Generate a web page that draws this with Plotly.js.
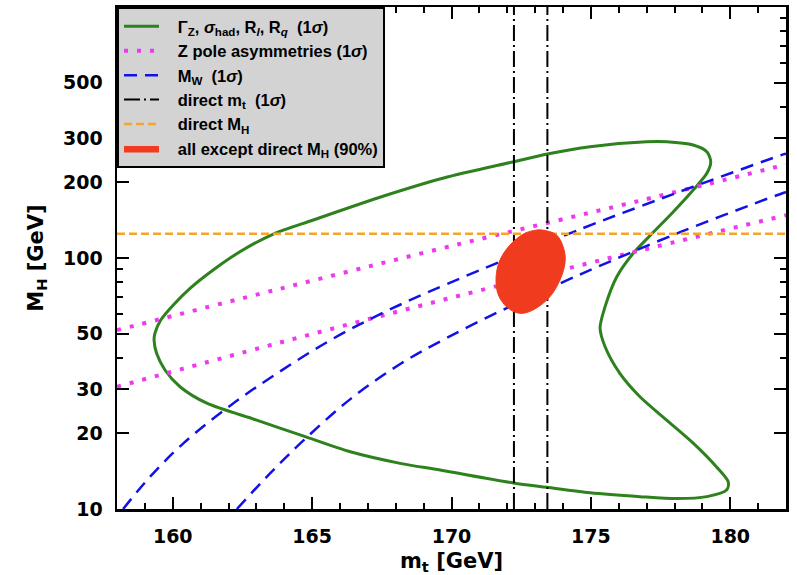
<!DOCTYPE html>
<html>
<head>
<meta charset="utf-8">
<script src="https://cdn.plot.ly/plotly-3.0.1.min.js"></script>
<style>html,body{margin:0;padding:0;background:#fff;}#plot{width:797px;height:575px;}</style>
</head>
<body>
<div id="plot"></div>
<script>
// Green contour: Gamma_Z, sigma_had, R_l, R_q (1 sigma)  [mt GeV, MH GeV]
const zWidthMt = [159.33,159.36,159.57,160.02,160.62,161.45,162.41,163.61,165.04,167.57,169.72,172.24,173.44,174.97,177.00,177.72,178.67,179.16,179.30,179.16,178.67,177.96,177.18,176.52,175.93,175.51,175.33,175.51,176.04,176.76,177.72,178.67,179.51,179.93,179.87,179.16,178.08,176.76,174.97,173.42,172.22,169.59,168.16,166.37,164.70,163.01,161.22,160.26,159.72,159.42,159.33];
const zWidthMH = [47.1,50.1,56.6,65.0,75.7,89.6,105.9,124.6,141.7,176.6,208.3,241.9,259.6,277.6,290.6,290.6,281.9,265.1,241.9,217.5,186.6,152.9,124.6,104.4,84.2,64.0,52.6,44.3,34.7,28.0,22.6,18.3,14.7,12.8,11.9,11.2,11.0,11.2,11.6,12.2,12.7,14.3,15.2,16.9,19.5,22.6,26.4,30.7,35.8,41.7,47.1];

// Z pole asymmetries (1 sigma): upper and lower band edges
const asymUpperMt = [158.0,163.68,169.89,176.76,182.0];
const asymUpperMH = [51.6,74.6,110.9,169.2,235.6];
const asymLowerMt = [158.0,163.74,169.78,176.11,182.0];
const asymLowerMH = [30.7,45.7,68.5,102.8,148.0];

// M_W (1 sigma): two band edges
const mwUpperMt = [158.22,159.19,160.39,162.06,163.74,165.65,167.57,169.84,174.73,176.76,178.67,181.90,182.0];
const mwUpperMH = [10.0,13.45,18.3,25.8,34.7,47.0,60.7,78.8,131.7,160.4,192.2,258.6,260.5];
const mwLowerMt = [162.30,163.50,164.70,166.37,168.16,169.84,171.98,174.25,175.21,178.20,181.90,182.0];
const mwLowerMH = [10.0,13.9,18.8,27.4,37.8,48.1,63.2,82.5,91.9,126.7,181.6,182.9];

// direct m_t (1 sigma) band edges and direct M_H
const directMt = [172.24,173.44];
const directMH = [125];

// all except direct M_H (90%) region outline
const fitMt = [173.24,173.77,174.04,174.07,173.89,173.53,172.93,172.46,172.04,171.68,171.60,171.74,172.10,172.58,172.93,173.24];
const fitMH = [129.3,123.5,107.6,95.3,81.7,70.1,62.1,60.2,63.0,71.2,84.2,98.2,112.7,124.6,128.5,129.3];

// axis settings
const xRange = [158,182];
const yRange = [10,1000];
const yTicks = [10,20,30,50,100,200,300,500];
const yMinorTicks = [40,60,70,80,90,400,600,700,800,900];

const pad = '\u00a0\u00a0\u00a0';
const traces = [
  {x: zWidthMt, y: zWidthMH, mode:'lines', line:{color:'#2e821e', width:3, shape:'spline', smoothing:0.8},
   name: pad + 'Γ<sub>Z</sub>, <i>σ</i><sub>had</sub>, R<sub><i>l</i></sub>, R<sub><i>q</i></sub>  (1<i>σ</i>)', legendgroup:'a'},
  {x: asymUpperMt.concat([null], asymLowerMt), y: asymUpperMH.concat([null], asymLowerMH), mode:'lines',
   line:{color:'#ee3aee', width:4, dash:'4px,9px', shape:'spline'}, connectgaps:false,
   name: pad + 'Z pole asymmetries (1<i>σ</i>)', legendgroup:'b'},
  {x: mwUpperMt.concat([null], mwLowerMt), y: mwUpperMH.concat([null], mwLowerMH), mode:'lines',
   line:{color:'#1212e6', width:2.5, dash:'13px,8px', shape:'spline'}, connectgaps:false,
   name: pad + 'M<sub>W</sub>  (1<i>σ</i>)', legendgroup:'c'},
  {x: [directMt[0], directMt[0], null, directMt[1], directMt[1]], y: [yRange[0], yRange[1], null, yRange[0], yRange[1]],
   mode:'lines', line:{color:'#000', width:2, dash:'16px,4px,2px,4px'}, connectgaps:false,
   name: pad + 'direct m<sub>t</sub>  (1<i>σ</i>)', legendgroup:'d'},
  {x: xRange, y: [directMH[0], directMH[0]], mode:'lines', line:{color:'#f5a52a', width:2.5, dash:'8px,4px'},
   name: pad + 'direct M<sub>H</sub>', legendgroup:'e'},
  {x: fitMt, y: fitMH, mode:'lines', fill:'toself', fillcolor:'#f03b1f', line:{color:'#f03b1f', width:1, shape:'spline'},
   name: pad + 'all except direct M<sub>H</sub> (90%)', legendgroup:'f'}
];

const axisFont = {family:'DejaVu Sans', size:19, weight:'bold', color:'#000'};
const layout = {
  width:797, height:575,
  margin:{l:117, r:11, t:7, b:66},
  paper_bgcolor:'#fff', plot_bgcolor:'#fff',
  showlegend:true,
  legend:{x:0, y:1, xanchor:'left', yanchor:'top', bgcolor:'#d3d3d3', bordercolor:'#000', borderwidth:2,
    font:{family:'Liberation Sans', size:16.5, weight:'bold', color:'#000'}, tracegroupgap:7, itemwidth:35, traceorder:'normal'},
  xaxis:{range:xRange, tick0:160, dtick:5, ticks:'inside', ticklen:12, tickwidth:2, tickcolor:'#000',
    showline:true, linewidth:2.5, linecolor:'#000', mirror:'allticks', showgrid:false, zeroline:false,
    tickfont:axisFont, ticklabelstandoff:9,
    minor:{dtick:1, ticks:'inside', ticklen:6, tickwidth:2, tickcolor:'#000', showgrid:false},
    title:{text:'m<sub>t</sub> [GeV]', font:{family:'DejaVu Sans', size:21, weight:'bold', color:'#000'}, standoff:10}},
  yaxis:{type:'log', range:[Math.log10(yRange[0]), Math.log10(yRange[1])], tickmode:'array', tickvals:yTicks, ticktext:yTicks.map(String),
    ticks:'inside', ticklen:12, tickwidth:2, tickcolor:'#000',
    showline:true, linewidth:2.5, linecolor:'#000', mirror:'allticks', showgrid:false, zeroline:false,
    tickfont:axisFont, ticklabelstandoff:8,
    minor:{tickmode:'array', tickvals:yMinorTicks, ticks:'inside', ticklen:6, tickwidth:2, tickcolor:'#000', showgrid:false},
    title:{text:'M<sub>H</sub> [GeV]', font:{family:'DejaVu Sans', size:21, weight:'bold', color:'#000'}, standoff:14}}
};

Plotly.newPlot('plot', traces, layout, {displayModeBar:false, staticPlot:true});
</script>
</body>
</html>
